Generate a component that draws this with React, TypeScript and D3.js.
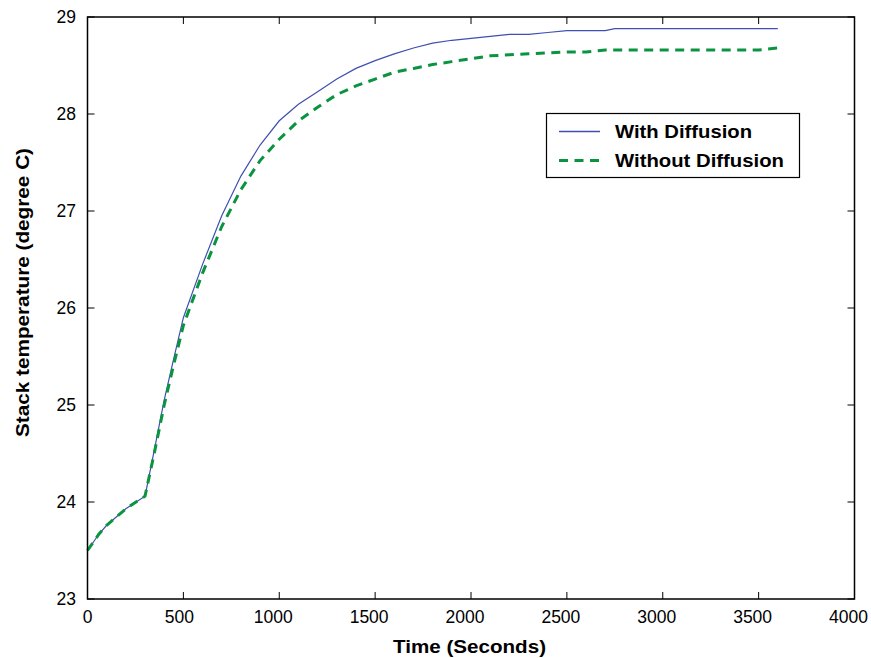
import React from "react";
import * as d3 from "d3";

const timeWith = [0, 60, 100, 200, 300, 350, 400, 450, 500, 600, 700, 800, 900, 1000, 1100, 1200, 1300, 1400, 1500, 1600, 1700, 1800, 1900, 2000, 2100, 2200, 2300, 2400, 2500, 2600, 2700, 2750, 3000, 3600];
const tempWith = [23.5, 23.67, 23.76, 23.93, 24.06, 24.55, 25.05, 25.48, 25.9, 26.45, 26.95, 27.36, 27.68, 27.93, 28.1, 28.23, 28.36, 28.47, 28.55, 28.62, 28.68, 28.73, 28.76, 28.78, 28.8, 28.82, 28.82, 28.84, 28.86, 28.86, 28.86, 28.88, 28.88, 28.88];

const timeWithout = [0, 60, 100, 200, 300, 350, 400, 450, 500, 600, 700, 800, 900, 1000, 1100, 1200, 1300, 1400, 1500, 1600, 1700, 1800, 1900, 2000, 2100, 2200, 2300, 2400, 2500, 2600, 2700, 2800, 3500, 3600];
const tempWithout = [23.5, 23.67, 23.76, 23.93, 24.06, 24.52, 25.0, 25.42, 25.82, 26.36, 26.84, 27.22, 27.52, 27.74, 27.93, 28.07, 28.2, 28.29, 28.36, 28.43, 28.47, 28.51, 28.54, 28.57, 28.6, 28.61, 28.62, 28.63, 28.64, 28.64, 28.66, 28.66, 28.66, 28.68];

const xTicks = [0, 500, 1000, 1500, 2000, 2500, 3000, 3500, 4000];
const yTicks = [23, 24, 25, 26, 27, 28, 29];
const seriesNames = ["With Diffusion", "Without Diffusion"];

export default function App() {
  const W = 871, H = 658;
  const left = 87.5, right = 854.5, top = 17, bottom = 599;
  const x = d3.scaleLinear().domain([0, 4000]).range([left, right]);
  const y = d3.scaleLinear().domain([23, 29]).range([bottom, top]);
  const line = d3.line<[number, number]>().x(d => x(d[0])).y(d => y(d[1]));
  const dWith = line(timeWith.map((t, i) => [t, tempWith[i]]))!;
  const dWithout = line(timeWithout.map((t, i) => [t, tempWithout[i]]))!;
  const blue = "#3f4fb0";
  const green = "#0a9440";
  const font = "Liberation Sans, Arial, Helvetica, sans-serif";
  const tk = 7;
  return (
    <svg width={W} height={H} style={{ position: "absolute", left: 0, top: 0 }} fontFamily={font}>
      <rect width={W} height={H} fill="white" />
      <path d={dWith} fill="none" stroke={blue} strokeWidth={1.2} />
      <path d={dWithout} fill="none" stroke={green} strokeWidth={3} strokeDasharray="9,6.5" />
      <rect x={left} y={top} width={right - left} height={bottom - top} fill="none" stroke="black" strokeWidth={1.5} />
      {xTicks.map(t => (
        <g key={"x" + t}>
          <line x1={x(t)} x2={x(t)} y1={bottom} y2={bottom - tk} stroke="black" strokeWidth={1} />
          <line x1={x(t)} x2={x(t)} y1={top} y2={top + tk} stroke="black" strokeWidth={1} />
          <text x={x(t) - (String(t).length - 1) * 2} y={623} textAnchor="middle" fontSize={17.5}>{t}</text>
        </g>
      ))}
      {yTicks.map(t => (
        <g key={"y" + t}>
          <line x1={left} x2={left + tk} y1={y(t)} y2={y(t)} stroke="black" strokeWidth={1} />
          <line x1={right} x2={right - tk} y1={y(t)} y2={y(t)} stroke="black" strokeWidth={1} />
          <text x={76} y={y(t) + 6} textAnchor="end" fontSize={17.5}>{t}</text>
        </g>
      ))}
      <text x={393} y={653} fontSize={18} fontWeight="bold" textLength={153} lengthAdjust="spacingAndGlyphs">Time (Seconds)</text>
      <text transform={`translate(29,437) rotate(-90)`} fontSize={18} fontWeight="bold" textLength={289} lengthAdjust="spacingAndGlyphs">Stack temperature (degree C)</text>
      <rect x={546.5} y={113.5} width={253} height={64} fill="white" stroke="black" strokeWidth={1.2} />
      <line x1={559} x2={600} y1={131.5} y2={131.5} stroke={blue} strokeWidth={1.5} />
      <line x1={559} x2={600} y1={160.5} y2={160.5} stroke={green} strokeWidth={3} strokeDasharray="9,6.5" />
      <text x={615} y={137.5} fontSize={18} fontWeight="bold" textLength={137} lengthAdjust="spacingAndGlyphs">{seriesNames[0]}</text>
      <text x={615} y={166.5} fontSize={18} fontWeight="bold" textLength={169} lengthAdjust="spacingAndGlyphs">{seriesNames[1]}</text>
    </svg>
  );
}
